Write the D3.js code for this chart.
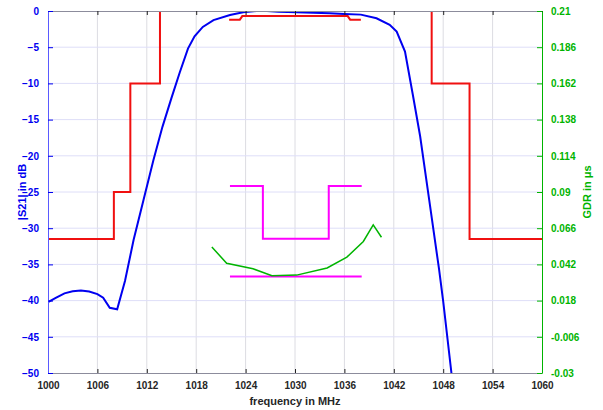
<!DOCTYPE html>
<html>
<head>
<meta charset="utf-8">
<script src="https://cdn.jsdelivr.net/npm/d3@7"></script>
<style>
  body { margin: 0; background: #fff; }
  text { font-family: "Liberation Sans", Arial, sans-serif; font-weight: bold; }
</style>
</head>
<body>
<script>
// |S21| measurement (dB)
const s21F = [1000, 1001, 1002, 1003, 1004, 1005, 1006, 1006.7, 1007.5, 1008.4, 1009.35, 1010.4, 1011.6, 1012.8, 1013.9,
  1015.0, 1016.0, 1017.0, 1017.8, 1018.8, 1020.1, 1022.1, 1023.7, 1025.3, 1026.6, 1028, 1030.2, 1034.2, 1036, 1038,
  1039.9, 1041.5, 1042.35, 1043.36, 1044.3, 1045.2, 1046.3, 1047.5, 1048.0, 1049.0, 1049.5]
const s21Db = [-40.2, -39.6, -39.0, -38.7, -38.6, -38.75, -39.1, -39.6, -41.0, -41.2, -37.3, -31.6, -26.1, -20.6, -16.0,
  -12.0, -8.5, -5.2, -3.5, -2.2, -1.25, -0.55, -0.18, 0, 0, -0.1, -0.18, -0.32, -0.4, -0.5,
  -1.0, -1.9, -2.85, -5.6, -11.5, -17.3, -26.1, -35.7, -40.1, -50, -55]

// attenuation mask (dB), three pieces
const maskLeftF = [1000, 1008, 1008, 1010, 1010, 1013.6, 1013.6]
const maskLeftDb = [-31.5, -31.5, -25, -25, -10, -10, 0]
const maskTopF = [1022, 1023.3, 1023.6, 1036.4, 1036.7, 1038]
const maskTopDb = [-1.2, -1.2, -0.7, -0.7, -1.2, -1.2]
const maskRightF = [1046.6, 1046.6, 1051.2, 1051.2, 1060]
const maskRightDb = [0, -10, -10, -31.5, -31.5]

// group delay ripple (us)
const gdrF = [1019.9, 1021.7, 1024.9, 1027.2, 1030.2, 1033.9, 1036.3, 1038.3, 1039.5, 1040.5]
const gdrUs = [0.0535, 0.0428, 0.0391, 0.0345, 0.0349, 0.0396, 0.0468, 0.0572, 0.0682, 0.060]

// GDR mask (us)
const gdrMaskUpF = [1022.1, 1026.1, 1026.1, 1034.1, 1034.1, 1038.1]
const gdrMaskUpUs = [0.094, 0.094, 0.059, 0.059, 0.094, 0.094]
const gdrMaskLowF = [1022.1, 1038.1]
const gdrMaskLowUs = [0.034, 0.034]

// ticks
const xTicks = d3.range(1000, 1061, 6)
const dbTicks = d3.range(0, -51, -5)
const gdrTicks = [0.21, 0.186, 0.162, 0.138, 0.114, 0.09, 0.066, 0.042, 0.018, -0.006, -0.03]

const width = 603, height = 410
const margin = { left: 48, right: 61, top: 11, bottom: 37 }
const iw = width - margin.left - margin.right
const ih = height - margin.top - margin.bottom

const blue = "#0000f0", green = "#00b400", red = "#f01010", magenta = "#ff00ff"

const svg = d3.select("body").append("svg").attr("width", width).attr("height", height)
const g = svg.append("g").attr("transform", `translate(${margin.left},${margin.top})`)

const x = d3.scaleLinear().domain([1000, 1060]).range([0, iw])
const yL = d3.scaleLinear().domain([-50, 0]).range([ih, 0])
const yR = d3.scaleLinear().domain([-0.03, 0.21]).range([ih, 0])

g.append("clipPath").attr("id", "clip").append("rect").attr("width", iw).attr("height", ih)

// grid
g.append("g").selectAll("line").data(xTicks.slice(1, -1)).enter().append("line")
  .attr("x1", d => x(d)).attr("x2", d => x(d)).attr("y1", 0).attr("y2", ih)
  .attr("stroke", "#dcdce2").attr("stroke-width", 1)
g.append("g").selectAll("line").data(dbTicks.slice(1, -1)).enter().append("line")
  .attr("x1", 0).attr("x2", iw).attr("y1", d => yL(d)).attr("y2", d => yL(d))
  .attr("stroke", "#dedef8").attr("stroke-width", 1)

// lines
const pts = (fs, vs) => fs.map((f, i) => [f, vs[i]])
const lineL = d3.line().x(d => x(d[0])).y(d => yL(d[1]))
const lineR = d3.line().x(d => x(d[0])).y(d => yR(d[1]))
const plot = g.append("g").attr("clip-path", "url(#clip)")

plot.append("path").datum(pts(s21F, s21Db)).attr("d", lineL)
  .attr("fill", "none").attr("stroke", blue).attr("stroke-width", 2)
;[[maskLeftF, maskLeftDb], [maskTopF, maskTopDb], [maskRightF, maskRightDb]].forEach(m => {
  plot.append("path").datum(pts(m[0], m[1])).attr("d", lineL)
    .attr("fill", "none").attr("stroke", red).attr("stroke-width", 2)
})
;[[gdrMaskUpF, gdrMaskUpUs], [gdrMaskLowF, gdrMaskLowUs]].forEach(m => {
  plot.append("path").datum(pts(m[0], m[1])).attr("d", lineR)
    .attr("fill", "none").attr("stroke", magenta).attr("stroke-width", 2)
})
plot.append("path").datum(pts(gdrF, gdrUs)).attr("d", lineR)
  .attr("fill", "none").attr("stroke", green).attr("stroke-width", 1.5)

// axes
const xAxis = g.append("g").attr("transform", `translate(0,${ih})`)
  .call(d3.axisBottom(x).tickValues(xTicks).tickSizeInner(-4).tickSizeOuter(0).tickPadding(9).tickFormat(d3.format("d")))
xAxis.select(".domain").attr("stroke", "#8c8c9c")
xAxis.selectAll(".tick line").attr("stroke", "#222")
xAxis.selectAll("text").attr("fill", "#262626").style("font-size", "10px")

const xTop = g.append("g")
  .call(d3.axisTop(x).tickValues(xTicks).tickSizeInner(-4).tickSizeOuter(0).tickFormat(""))
xTop.select(".domain").attr("stroke", "#8c8c9c")
xTop.selectAll(".tick line").attr("stroke", "#222")

const yAxisL = g.append("g")
  .call(d3.axisLeft(yL).tickValues(dbTicks).tickSizeInner(-5).tickSizeOuter(0).tickPadding(9))
yAxisL.select(".domain").attr("stroke", "#5a5aff")
yAxisL.selectAll(".tick line").attr("stroke", blue)
yAxisL.selectAll("text").attr("fill", blue).style("font-size", "10px")

const yAxisR = g.append("g").attr("transform", `translate(${iw},0)`)
  .call(d3.axisRight(yR).tickValues(gdrTicks).tickSizeInner(-5).tickSizeOuter(0).tickPadding(9).tickFormat(d => String(+d.toFixed(3))))
yAxisR.select(".domain").attr("stroke", green)
yAxisR.selectAll(".tick line").attr("stroke", green)
yAxisR.selectAll("text").attr("fill", green).style("font-size", "10px")

// titles
svg.append("text").attr("x", margin.left + iw / 2).attr("y", 405).attr("text-anchor", "middle")
  .attr("fill", "#262626").style("font-size", "11px").text("frequency in MHz")
svg.append("text").attr("transform", `translate(26,${margin.top + ih / 2}) rotate(-90)`).attr("text-anchor", "middle")
  .attr("fill", blue).style("font-size", "11px").text("|S21| in dB")
svg.append("text").attr("transform", `translate(591,${margin.top + ih / 2}) rotate(-90)`).attr("text-anchor", "middle")
  .attr("fill", green).style("font-size", "11px").text("GDR in μs")
</script>
</body>
</html>
